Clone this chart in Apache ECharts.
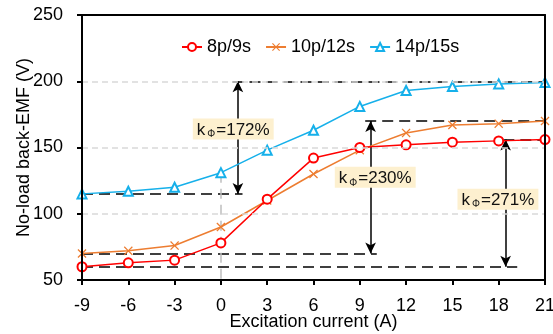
<!DOCTYPE html>
<html>
<head>
<meta charset="utf-8">
<script src="https://cdn.jsdelivr.net/npm/echarts@6/dist/echarts.min.js"></script>
<style>html,body{margin:0;padding:0;background:#fff;}#c{width:553px;height:334px;}</style>
</head>
<body>
<div id="c"></div>
<script>
var currents = [-9, -6, -3, 0, 3, 6, 9, 12, 15, 18, 21];
var emf8p9s  = [60, 63, 65, 78, 111, 142, 150, 152, 154, 155, 156];
var emf10p12s = [70, 72, 76, 90, 110, 130, 148, 161, 167, 168, 170];
var emf14p15s = [115, 117, 120, 131, 148, 163, 181, 193, 196, 198, 199];
var seriesNames = ['8p/9s', '10p/12s', '14p/15s'];
var xTicks = { min: -9, max: 21, step: 3 };
var yTicks = { min: 50, max: 250, step: 50 };
// annotations (data coordinates)
var ratioLabels = ['172%', '230%', '271%'];
var arrowX = [1.1, 9.7, 18.45];
var arrowTop = [200, 170, 156];
var arrowBottom = [115, 70, 60];
var topLineStart = [0.75, 9.35, 18.3];
var bottomLineEnd = [1.4, 10.1, 19.2];
var labelPos = [[0.8, 164], [10.0, 127.5], [17.95, 111]];

var FONT = 'Liberation Sans, Arial, sans-serif';
function pairs(xs, ys){ return xs.map(function(x,i){ return [x, ys[i]]; }); }

var crossPath = 'path://M0,1L1,0L5,4L9,0L10,1L6,5L10,9L9,10L5,6L1,10L0,9L4,5Z';

var markLines = [];
var blackDash = { color: '#000', type: [11, 6], width: 1.5 };
for (var i = 0; i < 3; i++) {
  markLines.push([{ coord: [topLineStart[i], arrowTop[i]], lineStyle: blackDash, symbol: 'none' }, { coord: [21, arrowTop[i]], symbol: 'none' }]);
  markLines.push([{ coord: [-9, arrowBottom[i]], lineStyle: blackDash, symbol: 'none' }, { coord: [bottomLineEnd[i], arrowBottom[i]], symbol: 'none' }]);
  markLines.push([{ coord: [arrowX[i], arrowTop[i]], lineStyle: { color: '#000', type: 'solid', width: 1.5 }, symbol: 'arrow' }, { coord: [arrowX[i], arrowBottom[i]], symbol: 'arrow' }]);
}
markLines.push([{ coord: [0, emf14p15s[3]], lineStyle: { color: '#bfbfbf', type: [10, 6], width: 1.5 }, symbol: 'none' }, { coord: [0, yTicks.min], symbol: 'none' }]);

var markPoints = ratioLabels.map(function(r, i){
  return {
    coord: labelPos[i], symbol: 'rect', symbolSize: 1, itemStyle: { color: 'rgba(0,0,0,0)' },
    label: {
      show: true, position: 'inside',
      formatter: '{a|k}{b|Φ}{a|=' + r + '}',
      backgroundColor: '#fdf0cf', padding: [2, 4, 0, 4],
      rich: {
        a: { fontSize: 17, fontFamily: FONT, color: '#111', lineHeight: 19 },
        b: { fontSize: 10, fontFamily: FONT, color: '#111', verticalAlign: 'bottom', lineHeight: 19, padding: [0, 1, 0, 2] }
      }
    }
  };
});

var chart = echarts.init(document.getElementById('c'));
chart.setOption({
  animation: false,
  backgroundColor: '#fff',
  grid: { left: 82, right: 8, top: 15, bottom: 54, containLabel: false, outerBoundsMode: 'none' },
  legend: {
    data: seriesNames, left: 176, top: 33, itemWidth: 20, itemHeight: 10, itemGap: 14,
    textStyle: { fontSize: 18, fontFamily: FONT, color: '#000' }
  },
  xAxis: [{
    type: 'value', min: xTicks.min, max: xTicks.max, interval: xTicks.step,
    name: 'Excitation current (A)', nameLocation: 'middle', nameGap: 33, nameMoveOverlap: false,
    nameTextStyle: { fontSize: 18, fontFamily: FONT, color: '#000' },
    axisLine: { onZero: false, lineStyle: { color: '#000', width: 2 } },
    axisTick: { show: true, length: 5, lineStyle: { color: '#000', width: 2 } },
    axisLabel: { fontSize: 18, fontFamily: FONT, color: '#000', margin: 17 },
    splitLine: { show: false }, z: 5
  }, {
    type: 'value', position: 'top', min: xTicks.min, max: xTicks.max, interval: xTicks.step,
    axisLine: { show: true, onZero: false, lineStyle: { color: '#000', width: 2 } },
    axisTick: { show: false }, axisLabel: { show: false }, splitLine: { show: false }, z: 5
  }],
  yAxis: [{
    type: 'value', min: yTicks.min, max: yTicks.max, interval: yTicks.step,
    name: 'No-load back-EMF (V)', nameLocation: 'middle', nameGap: 49, nameMoveOverlap: false,
    nameTextStyle: { fontSize: 18, fontFamily: FONT, color: '#000' },
    axisLine: { show: true, onZero: false, lineStyle: { color: '#000', width: 2 } },
    axisTick: { show: true, length: 5, lineStyle: { color: '#000', width: 2 } },
    axisLabel: { fontSize: 18, fontFamily: FONT, color: '#000', margin: 19 },
    splitLine: { show: true, lineStyle: { color: '#d9d9d9', type: [6, 4], width: 1.5 } }, z: 5
  }, {
    type: 'value', position: 'right', min: yTicks.min, max: yTicks.max, interval: yTicks.step,
    axisLine: { show: true, onZero: false, lineStyle: { color: '#000', width: 2 } },
    axisTick: { show: false }, axisLabel: { show: false }, splitLine: { show: false }, z: 5
  }],
  series: [{
    name: seriesNames[0], type: 'line', data: pairs(currents, emf8p9s),
    symbol: 'emptyCircle', symbolSize: 9, z: 4,
    lineStyle: { color: '#ff0000', width: 1.5 }, itemStyle: { color: '#ff0000', borderWidth: 1.5 }
  }, {
    name: seriesNames[1], type: 'line', data: pairs(currents, emf10p12s),
    symbol: crossPath, symbolSize: 9, z: 3,
    lineStyle: { color: '#ed7d31', width: 1.5 }, itemStyle: { color: '#ed7d31' }
  }, {
    name: seriesNames[2], type: 'line', data: pairs(currents, emf14p15s),
    symbol: 'emptyTriangle', symbolSize: 9, z: 3,
    lineStyle: { color: '#16b0ea', width: 1.5 }, itemStyle: { color: '#16b0ea', borderWidth: 1.5 }
  }, {
    name: 'annotations', type: 'line', data: [], z: 2, silent: true,
    markLine: { silent: true, symbolSize: [8, 11], label: { show: false }, data: markLines, z: 2 },
    markPoint: { silent: true, data: markPoints, z: 6 }
  }]
});
</script>
</body>
</html>
